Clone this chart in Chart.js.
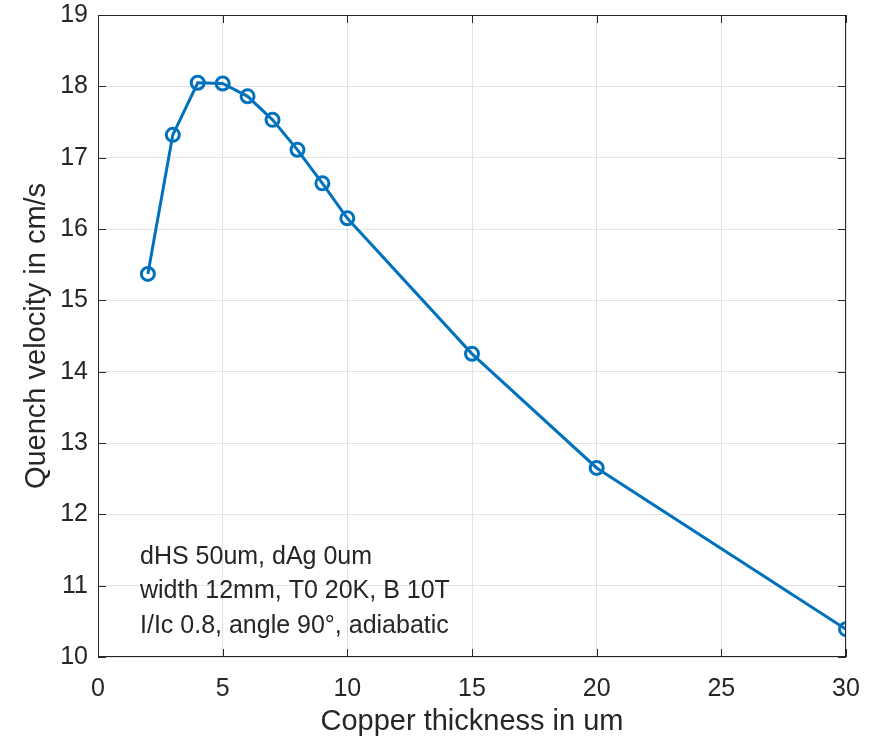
<!DOCTYPE html>
<html>
<head>
<meta charset="utf-8">
<script src="https://cdn.jsdelivr.net/npm/chart.js@4/dist/chart.umd.min.js"></script>
<style>
  html, body { margin:0; padding:0; background:#fff; }
  #wrap { width:869px; height:739px; position:relative; }
</style>
</head>
<body>
<div id="wrap"><canvas id="c" width="869" height="739"></canvas></div>
<script>
// copper thickness (um) vs quench velocity (cm/s)
const thickness = [2, 3, 4, 5, 6, 7, 8, 9, 10, 15, 20, 30];
const velocity  = [15.37, 17.32, 18.05, 18.04, 17.86, 17.53, 17.11, 16.64, 16.15, 14.25, 12.65, 10.39];
const xTicks = [0, 5, 10, 15, 20, 25, 30];
const yTicks = [10, 11, 12, 13, 14, 15, 16, 17, 18, 19];
const noteLines = ['dHS 50um, dAg 0um', 'width 12mm, T0 20K, B 10T', 'I/Ic 0.8, angle 90\u00b0, adiabatic'];

const FONT = '"Liberation Sans", Arial, Helvetica, sans-serif';
const AXIS = '#262626';
const BLUE = '#0072BD';

// matlab style box with inward ticks, plus the text note
const boxPlugin = {
  id:'box',
  afterDraw(chart){
    const {ctx, chartArea:a, scales} = chart;
    const xs = scales.x, ys = scales.y;
    ctx.save();
    ctx.strokeStyle = AXIS;
    ctx.lineWidth = 1;
    ctx.strokeRect(a.left+0.5, a.top+0.5, a.right-a.left-1, a.bottom-a.top-1);
    const tl = 8;
    ctx.beginPath();
    xTicks.forEach(v=>{
      const px = Math.round(xs.getPixelForValue(v))+0.5;
      ctx.moveTo(px, a.bottom); ctx.lineTo(px, a.bottom-tl);
      ctx.moveTo(px, a.top); ctx.lineTo(px, a.top+tl);
    });
    yTicks.forEach(v=>{
      const py = Math.round(ys.getPixelForValue(v))+0.5;
      ctx.moveTo(a.left, py); ctx.lineTo(a.left+tl, py);
      ctx.moveTo(a.right, py); ctx.lineTo(a.right-tl, py);
    });
    ctx.stroke();

    ctx.fillStyle = AXIS;
    ctx.font = '25px ' + FONT;
    ctx.textBaseline = 'middle';
    ctx.textAlign = 'left';
    noteLines.forEach((t,i)=>{
      ctx.fillText(t, a.left + 42, a.bottom - 100 + i*34.5);
    });
    ctx.restore();
  }
};

new Chart(document.getElementById('c'), {
  type:'line',
  data:{
    datasets:[{
      data: thickness.map((x,i)=>({x:x, y:velocity[i]})),
      borderColor: BLUE,
      borderWidth: 3,
      pointStyle:'circle',
      pointRadius: 6.5,
      pointBorderWidth: 3,
      pointBorderColor: BLUE,
      pointBackgroundColor: 'rgba(0,0,0,0)',
      tension: 0,
      fill:false
    }]
  },
  plugins:[boxPlugin],
  options:{
    responsive:false,
    animation:false,
    layout:{ padding:{ left:0, top:15, right:23, bottom:0 } },
    plugins:{ legend:{display:false}, tooltip:{enabled:false} },
    scales:{
      x:{
        type:'linear', min:0, max:30,
        afterBuildTicks(s){ s.ticks = xTicks.map(v=>({value:v})); },
        afterFit(s){ s.height = 82; s.paddingLeft = 0; s.paddingRight = 0; },
        grid:{ color:'#e3e3e3', drawTicks:false, lineWidth:1 },
        border:{ display:false },
        ticks:{ color:AXIS, font:{family:FONT, size:25}, padding:17, maxRotation:0 },
        title:{ display:true, text:'Copper thickness in um', color:AXIS, font:{family:FONT, size:29}, padding:{top:0, bottom:0} }
      },
      y:{
        type:'linear', min:10, max:19,
        afterBuildTicks(s){ s.ticks = yTicks.map(v=>({value:v})); },
        afterFit(s){ s.width = 98; s.paddingTop = 0; s.paddingBottom = 0; },
        grid:{ color:'#e3e3e3', drawTicks:false, lineWidth:1 },
        border:{ display:false },
        ticks:{ color:AXIS, font:{family:FONT, size:25}, padding:10 },
        title:{ display:true, text:'Quench velocity in cm/s', color:AXIS, font:{family:FONT, size:29}, padding:{top:20, bottom:0} }
      }
    }
  }
});
</script>
</body>
</html>
